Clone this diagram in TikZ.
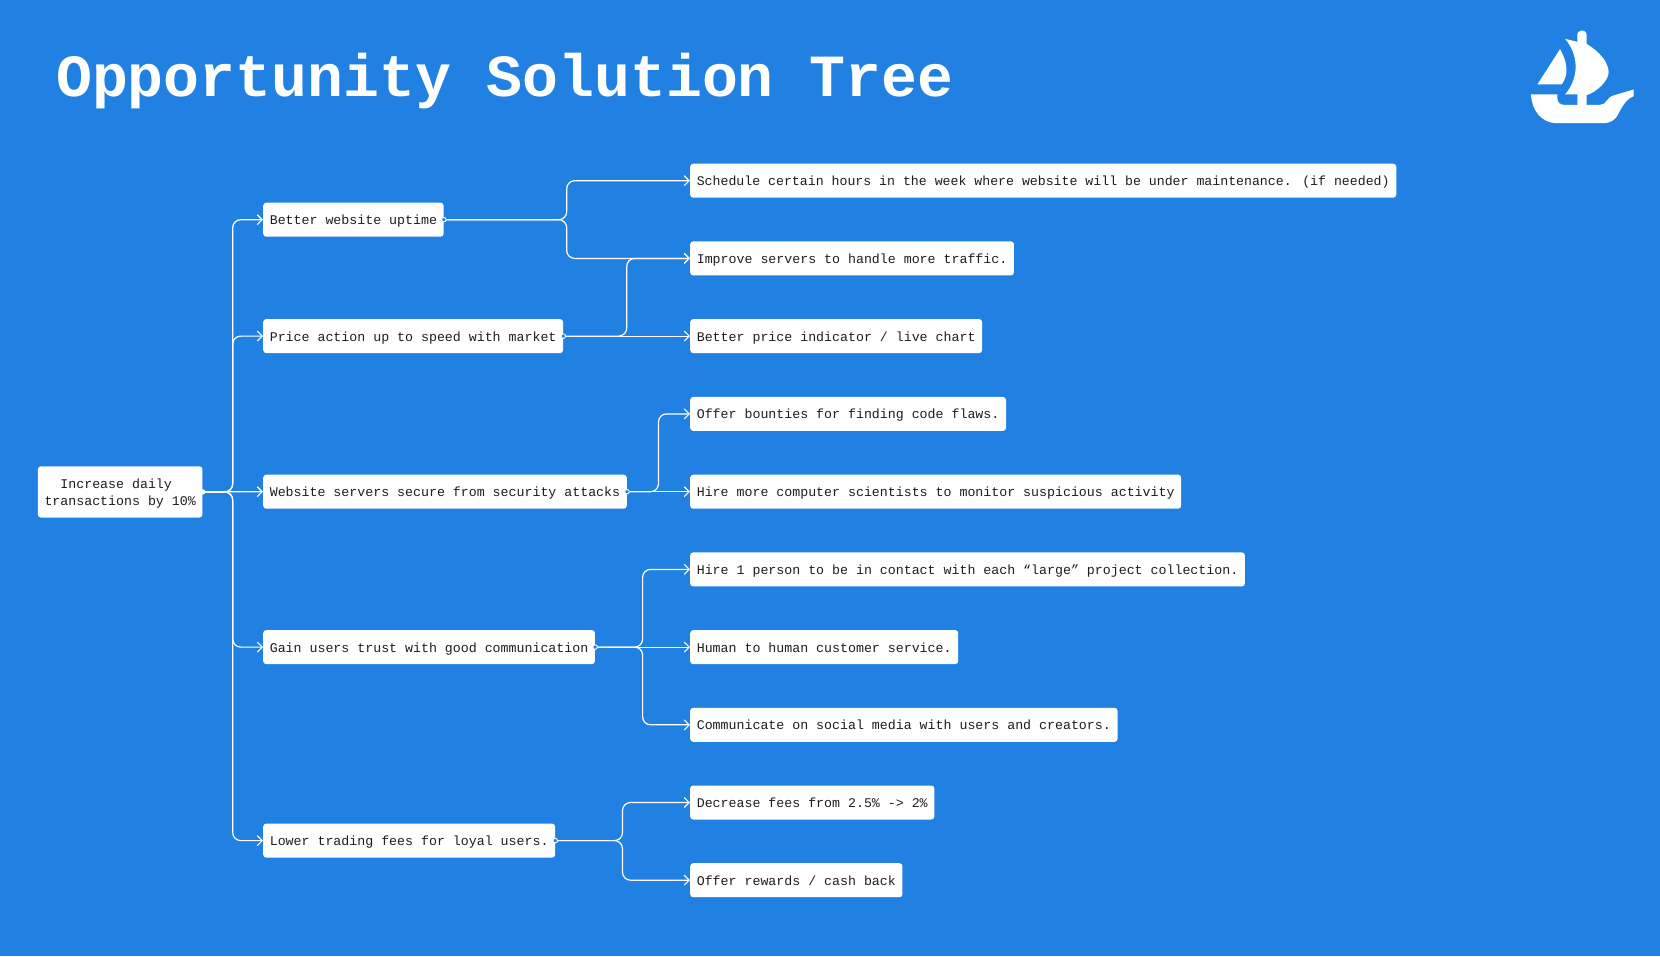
\documentclass[tikz,border=0pt]{standalone}
\usepackage{fontspec}
\setmainfont{Liberation Mono}
\usepackage{xcolor}
\usetikzlibrary{positioning,calc,arrows.meta}
\definecolor{skyblue}{HTML}{2181E2}
\definecolor{inkdark}{HTML}{1E1E1E}
\tikzset{
  card/.style={fill=white, rounded corners=3, anchor=west, text=inkdark, inner xsep=6.6, inner ysep=0,
    minimum height=34, text height=13.5, text depth=3.5, font=\fontsize{13.27}{17.3}\selectfont},
  link/.style={draw=white, line width=1.2, rounded corners=8, -{Straight Barb[length=5,width=10,line width=1.1]}},
  stub/.style={circle, draw=white, fill=skyblue, line width=0.9, inner sep=0, minimum size=4.5},
  stubroot/.style={circle, fill=white, inner sep=0, minimum size=5.5}
}

\begin{document}
\begin{tikzpicture}[x=1pt, y=-1pt]
  \useasboundingbox[fill=skyblue] (0,0) rectangle (1660,956);

  % Heading
  \node[anchor=base west, text=white, inner sep=0, font=\fontsize{59.8}{60}\selectfont\bfseries] (heading) at (56,96.5) {Opportunity Solution Tree};

  % Ship logo
  \begin{scope}[shift={(1500,10.5)}, x=0.3333pt, y=-0.3333pt, fill=white]
    \fill (180,116) -- (112,222) -- (185,222) .. controls (205,195) and (205,160) .. cycle;
    \fill (195,85) -- (232,94) -- (232,74) .. controls (232,55) and (260,55) .. (260,74) -- (260,100)
      .. controls (300,125) and (325,155) .. (326,185) .. controls (326,210) and (290,245) .. (260,254)
      -- (260,290) -- (232,290) -- (232,252) -- (195,252) .. controls (240,200) and (235,130) .. cycle;
    \fill (93,252) -- (172,252) -- (172,262) .. controls (172,275) and (180,283) .. (192,283) -- (300,283)
      .. controls (320,283) and (318,262) .. (340,255) -- (401,237) -- (401,257)
      .. controls (385,262) and (370,280) .. (355,310) .. controls (345,330) and (330,338) .. (310,338)
      -- (170,338) .. controls (125,338) and (95,300) .. cycle;
  \end{scope}

  % Goal and opportunities
  \node[card, align=center, minimum height=51.3, text height=30, text depth=2.8] (goal) at (37.7,491.9) {Increase daily\phantom{x}\\transactions by 10\%};
  \node[card] (uptime) at (263,219.7) {Better website uptime};
  \node[card] (price) at (263,336.1) {Price action up to speed with market};
  \node[card] (secure) at (263,491.7) {Website servers secure from security attacks};
  \node[card] (trust) at (263,647.1) {Gain users trust with good communication};
  \node[card] (fees) at (263,840.6) {Lower trading fees for loyal users.};

  % Solutions
  \node[card, font=\fontsize{13.22}{17.3}\selectfont] (sched) at (690,180.7) {Schedule certain hours in the week where website will be under maintenance. (if needed)};
  \node[card] (servers) at (690,258.4) {Improve servers to handle more traffic.};
  \node[card] (chart) at (690,336.1) {Better price indicator / live chart};
  \node[card] (bounty) at (690,413.9) {Offer bounties for finding code flaws.};
  \node[card] (hire) at (690,491.7) {Hire more computer scientists to monitor suspicious activity};
  \node[card] (contact) at (690,569.4) {Hire 1 person to be in contact with each “large” project collection.};
  \node[card] (human) at (690,647.1) {Human to human customer service.};
  \node[card] (social) at (690,724.8) {Communicate on social media with users and creators.};
  \node[card] (lower) at (690,802.5) {Decrease fees from 2.5\% -> 2\%};
  \node[card] (reward) at (690,880.2) {Offer rewards / cash back};

  % Vertical runs of the branches
  \coordinate (busgoal) at (232.7,0);
  \coordinate (busuptime) at (566.7,0);
  \coordinate (busprice) at (626.7,0);
  \coordinate (bussecure) at (658.5,0);
  \coordinate (bustrust) at (642.6,0);
  \coordinate (busfees) at (622.5,0);

  % Connectors
  \foreach \a/\b/\c in {goal/busgoal/uptime, goal/busgoal/price, goal/busgoal/trust, goal/busgoal/fees,
      uptime/busuptime/sched, uptime/busuptime/servers, price/busprice/servers,
      secure/bussecure/bounty, trust/bustrust/contact, trust/bustrust/social,
      fees/busfees/lower, fees/busfees/reward} {
    \draw[link] (\a.east) -| (\b |- \c.west) -- (\c.west);
  }
  \foreach \a/\c in {goal/secure, price/chart, secure/hire, trust/human} {
    \draw[link] (\a.east) -- (\c.west);
  }

  % Handles on the source side
  \node[stubroot] (dotgoal) at (goal.east) {};
  \foreach \a in {uptime,price,secure,trust,fees} {
    \node[stub] (dot\a) at (\a.east) {};
  }
\end{tikzpicture}
\end{document}
